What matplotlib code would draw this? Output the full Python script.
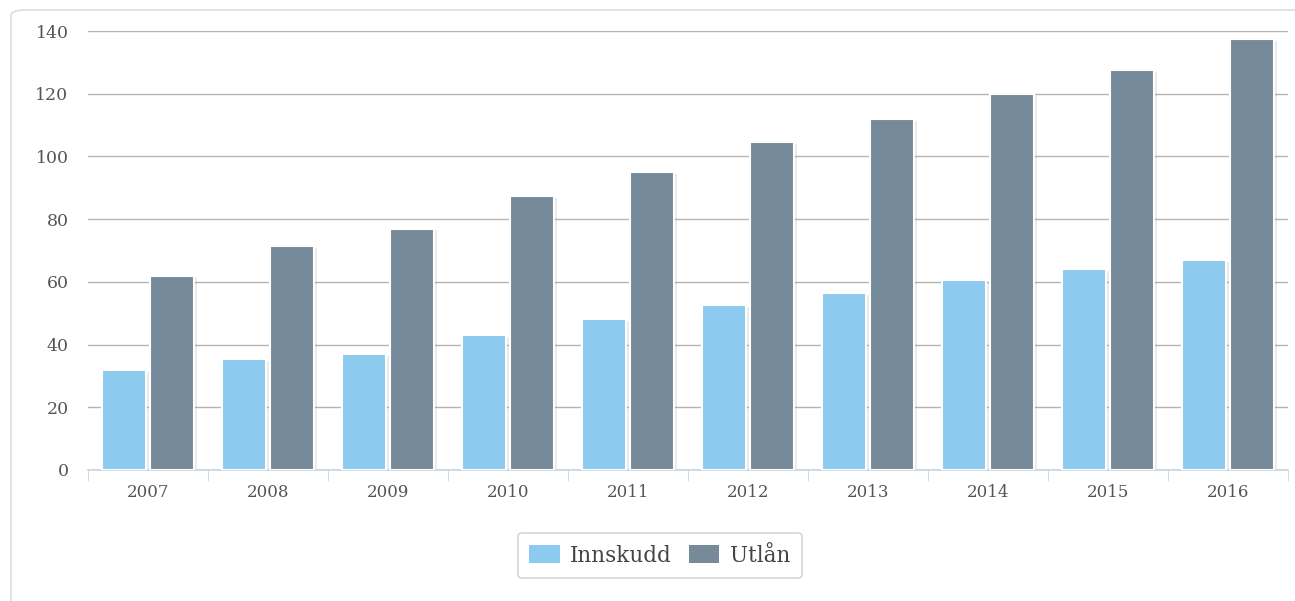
import matplotlib.pyplot as plt
import numpy as np
from matplotlib.patches import FancyBboxPatch

# Data
years = ['2007', '2008', '2009', '2010', '2011', '2012', '2013', '2014', '2015', '2016']
innskudd = [32, 35.5, 37, 43, 48, 52.5, 56.5, 60.5, 64, 67]
utlan = [62, 71.5, 77, 87.5, 95, 104.5, 112, 120, 127.5, 137.5]

plt.rcParams['font.family'] = ['DejaVu Serif']

fig = plt.figure(figsize=(12.95, 6.01), dpi=100)

# Outer rounded frame
frame = FancyBboxPatch((11 / 1295, -0.05), 1.2, 1.05 - 10 / 601,
                       boxstyle='round,pad=0,rounding_size=0.01',
                       transform=fig.transFigure, facecolor='white',
                       edgecolor='#d4dee8', linewidth=1.2, zorder=-1)
fig.patches.append(frame)

ax = fig.add_axes([88 / 1295, 131 / 601, 1200 / 1295, 439 / 601])
ax.set_facecolor('none')

x = np.arange(len(years))
w = 0.37
off = 0.2

# light shadows
ax.bar(x - off + 0.02, innskudd, w, bottom=-0.6, color='#000000', alpha=0.08, zorder=2)
ax.bar(x + off + 0.02, utlan, w, bottom=-0.6, color='#000000', alpha=0.08, zorder=2)

ax.bar(x - off, innskudd, w, color='#8dcaef', edgecolor='white', linewidth=1.5,
       label='Innskudd', zorder=3)
ax.bar(x + off, utlan, w, color='#778a99', edgecolor='white', linewidth=1.5,
       label='Utlån', zorder=3)

ax.set_xlim(-0.5, len(years) - 0.5)
ax.set_ylim(0, 140)
ax.set_yticks(np.arange(0, 141, 20))
ax.grid(True, axis='y', color='#b4b4b4', linewidth=1.0, zorder=1)

ax.set_xticks(x)
ax.set_xticklabels(years)
ax.set_xticks(np.arange(-0.5, len(years), 1.0), minor=True)
ax.tick_params(axis='x', which='major', length=0, pad=10, labelsize=12, labelcolor='#555555')
ax.tick_params(axis='x', which='minor', length=8, color='#c8d4e0')
ax.tick_params(axis='y', length=0, pad=14, labelsize=12.5, labelcolor='#555555')

for s in ['top', 'right', 'left']:
    ax.spines[s].set_visible(False)
ax.spines['bottom'].set_color('#c8d4e0')
ax.spines['bottom'].set_linewidth(1.2)

leg = ax.legend(loc='center', bbox_to_anchor=(0.5 - 28 / 1200, -0.195), ncol=2,
                frameon=True, fontsize=15.5, handlelength=1.4, handleheight=0.95,
                columnspacing=0.8, handletextpad=0.5, borderpad=0.55, borderaxespad=0,
                labelcolor='#444444', fancybox=True)
leg.get_frame().set_edgecolor('#cccccc')
leg.get_frame().set_linewidth(1.2)
for h in leg.legend_handles:
    h.set_edgecolor('none')

fig.savefig('out.png', dpi=100)
